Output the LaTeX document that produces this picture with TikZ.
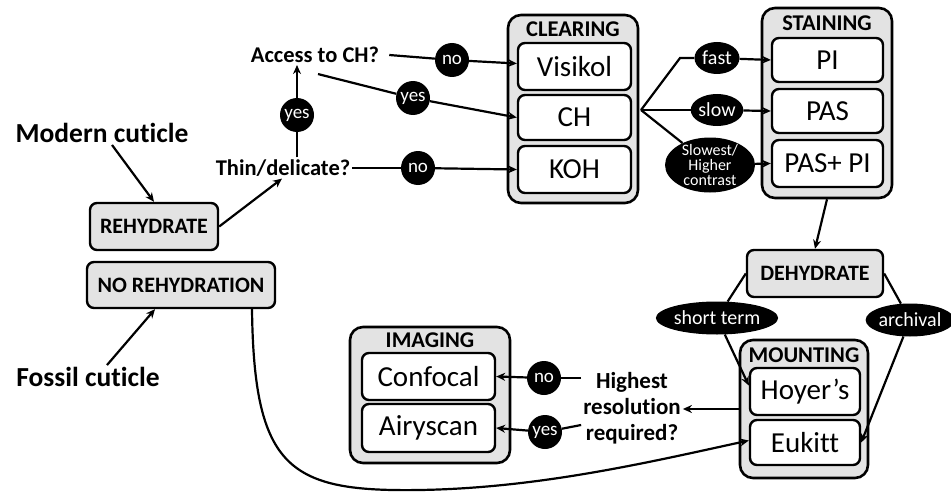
\documentclass[tikz,border=0pt]{standalone}
\usepackage{fontspec}
\setmainfont{Carlito}[Ligatures=NoCommon]
\usetikzlibrary{arrows.meta,shapes.geometric}
\begin{document}
\begin{tikzpicture}[x=1pt,y=-1pt,
 grp/.style={draw, line width=2.6pt, rounded corners=13pt, fill=gray!22, inner sep=0pt},
 inbox/.style={draw, line width=2.4pt, rounded corners=7pt, fill=white, font=\fontsize{29}{31}\selectfont, inner sep=0pt},
 gbox/.style={draw, line width=2.4pt, rounded corners=7pt, fill=gray!22, font=\bfseries\fontsize{22}{24}\selectfont, inner sep=0pt},
 ttl/.style={font=\bfseries\fontsize{22.5}{24}\selectfont, inner sep=0pt},
 lbl/.style={font=\bfseries\fontsize{22.5}{24}\selectfont, inner sep=2pt},
 big/.style={font=\bfseries\fontsize{27.5}{30}\selectfont, inner sep=2pt},
 yn/.style={circle, fill=black, text=white, minimum size=34pt, inner sep=0pt, font=\fontsize{19}{20}\selectfont},
 el/.style={ellipse, fill=black, text=white, inner sep=0pt, font=\fontsize{20}{20}\selectfont},
 arr/.style={line width=2.2pt, -{Stealth[length=9pt,width=8pt]}},
 ln/.style={line width=2.2pt},
]
\useasboundingbox (0,0) rectangle (951,495);

% groups
\node[grp, minimum width=130pt, minimum height=188pt] (clear) at (573,109) {};
\node[ttl] (clearT) at (573,29) {CLEARING};
\node[grp, minimum width=130pt, minimum height=190pt] (stain) at (827,103) {};
\node[ttl] (stainT) at (827,23) {STAINING};
\node[grp, minimum width=128pt, minimum height=138pt] (mount) at (804,409) {};
\node[ttl] (mountT) at (804,355) {MOUNTING};
\node[grp, minimum width=160pt, minimum height=136pt] (imag) at (430,395) {};
\node[ttl] (imagT) at (430,340) {IMAGING};

% inner boxes
\node[inbox, minimum width=113pt, minimum height=47pt] (vis) at (574.5,66.5) {Visikol};
\node[inbox, minimum width=113pt, minimum height=45pt] (ch) at (574.5,117.5) {CH};
\node[inbox, minimum width=113pt, minimum height=47pt] (koh) at (574.5,169.5) {KOH};
\node[inbox, minimum width=111pt, minimum height=44pt] (pi) at (827.5,60) {PI};
\node[inbox, minimum width=111pt, minimum height=44pt] (pas) at (827.5,111) {PAS};
\node[inbox, minimum width=111pt, minimum height=47pt] (paspi) at (827.5,163.5) {PAS+ PI};
\node[inbox, minimum width=110pt, minimum height=47pt] (hoy) at (805,391.5) {Hoyer’s};
\node[inbox, minimum width=110pt, minimum height=45pt] (euk) at (805,442.5) {Eukitt};
\node[inbox, minimum width=133pt, minimum height=47pt] (conf) at (428.5,376.5) {Confocal};
\node[inbox, minimum width=133pt, minimum height=48pt] (airy) at (428.5,428) {Airyscan};

% gray step boxes
\node[gbox, minimum width=128pt, minimum height=47pt] (rh) at (154,226.5) {REHYDRATE};
\node[gbox, minimum width=188pt, minimum height=46pt] (nr) at (181,285) {NO REHYDRATION};
\node[gbox, minimum width=136pt, minimum height=47pt] (dh) at (815,273.5) {DEHYDRATE};

% texts
\node[big] (mc) at (102,133) {Modern cuticle};
\node[big] (fc) at (88,377) {Fossil cuticle};
\node[lbl] (td) at (283,168) {Thin/delicate?};
\node[lbl] (ac) at (315,55) {Access to CH?};
\node[lbl, align=center, font=\bfseries\fontsize{23}{26}\selectfont] (hr) at (632,408) {Highest\\resolution\\required?};

% yes/no circles
\node[yn] (no1) at (452,60) {no};
\node[yn] (yes1) at (413,98) {yes};
\node[yn] (yes2) at (297,115) {yes};
\node[yn] (no2) at (418,168) {no};
\node[yn] (no3) at (544,378) {no};
\node[yn] (yes3) at (545,432) {yes};

% ellipses
\node[el, minimum width=45pt, minimum height=32pt] (fast) at (717,58) {fast};
\node[el, minimum width=45pt, minimum height=32pt] (slow) at (717,110) {slow};
\node[el, minimum width=90pt, minimum height=55pt, inner ysep=-7pt, align=center, font=\fontsize{16}{15}\selectfont] (slowest) at (710,165) {Slowest/\\Higher\\contrast};
\node[el, minimum width=110pt, minimum height=33pt] (st) at (717,318) {short term};
\node[el, minimum width=80pt, minimum height=33pt] (ar) at (910,320) {archival};

% connectors
\draw[arr] ([xshift=10pt]mc.south) -- (rh.north);
\draw[arr] ([xshift=19pt]fc.north) -- ([xshift=-26pt]nr.south);
\draw[arr] (rh.east) -- ([xshift=-1pt]td.south);

\draw[ln] (td.east) -- (no2);
\draw[arr] (no2) -- (koh.west);
\draw[ln] ([xshift=14pt]td.north) -- (yes2);
\draw[arr] (yes2) -- ([xshift=-18pt]ac.south);
\draw[ln] ([xshift=8pt]ac.east) -- (no1);
\draw[arr] (no1) -- ([yshift=3pt]vis.west);
\draw[ln] ([shift={(3,9)}]ac.south) -- (yes1);
\draw[arr] (yes1) -- (ch.west);

\coordinate (br) at (641,110);
\coordinate (bend) at (680,58);
\draw[ln] (br) -- (bend) -- (fast.west);
\draw[arr] (fast) -- (pi.west);
\draw[ln] (br) -- (slow);
\draw[arr] (slow) -- (pas.west);
\draw[ln] (br) -- (slowest);
\draw[arr] (slowest) -- (paspi.west);

\draw[arr] (stain.south) -- (dh.north);
\draw[ln] (dh.west) -- (st);
\draw[arr] (st) -- ([yshift=6pt]hoy.west);
\draw[ln] (dh.east) -- (ar);
\draw[arr] (ar) -- (euk.east);

\draw[arr] (mount.west) -- (mount.west -| hr.east);
\draw[ln] (no3 -| hr.west) -- (no3);
\draw[arr] (no3) -- (conf.east);
\draw[ln] ([yshift=-17pt]hr.west) -- (yes3);
\draw[arr] (yes3) -- (airy.east);

\draw[arr] ([xshift=71pt]nr.south) .. controls (254,470) and (290,492) .. (420,490)
  .. controls (540,488) and (650,462) .. ([yshift=2pt]euk.west);
\end{tikzpicture}
\end{document}
